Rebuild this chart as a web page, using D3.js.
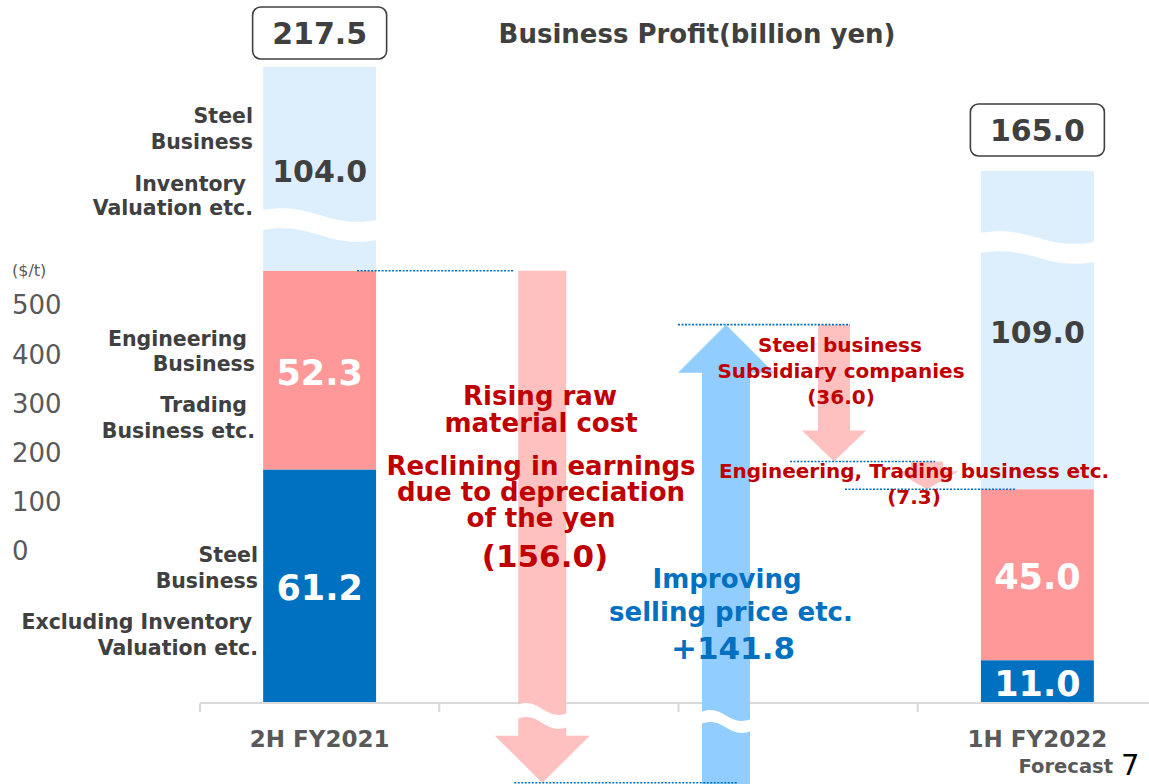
<!DOCTYPE html>
<html><head><meta charset="utf-8">
<script src="https://cdn.jsdelivr.net/npm/d3@7"></script>
<style>
body{margin:0;background:#fff}
svg{display:block}
text{font-family:"DejaVu Sans",Verdana,sans-serif}
</style>
</head><body>
<svg id="c" width="1149" height="784"></svg>
<script>
// ---------------- data ----------------
const categories = ["2H FY2021", "", "", "1H FY2022"];
const categorySub = ["", "", "", "Forecast"];
// stacked segments bottom -> top : steel excl. inventory, engineering/trading, inventory valuation
const startSegments = [61.2, 52.3, 104.0];
const endSegments = [11.0, 45.0, 109.0];
const totals = [217.5, 165.0];
// waterfall steps between the two bars
const stepValues = [-156.0, 141.8, -36.0, -7.3];
const stepLabels = [
  ["Rising raw", "material cost", "Reclining in earnings", "due to depreciation", "of the yen", "(156.0)"],
  ["Improving", "selling price etc.", "+141.8"],
  ["Steel business", "Subsidiary companies", "(36.0)"],
  ["Engineering, Trading business etc.", "(7.3)"]
];
const startSegLabels = [
  ["Steel", "Business", "Excluding Inventory", "Valuation etc."],
  ["Engineering", "Business", "Trading", "Business etc."],
  ["Steel", "Business", "Inventory", "Valuation etc."]
];
const yTickValues = [0, 100, 200, 300, 400, 500];
const yUnit = "($/t)";
const title = "Business Profit(billion yen)";
const pageNumber = "7";

// ---------------- setup ----------------
const svg = d3.select("#c");
const W = 1149, H = 784;
const C = {
  dark: "#404040", grey: "#595959", red: "#C00000", blue: "#0070C0",
  steel: "#0070C0", eng: "#FF9999", inv: "#DDEFFC",
  pinkArrow: "#FFC0C0", blueArrow: "#91CEFF", axis: "#D9D9D9"
};
const segColors = [C.steel, C.eng, C.inv];

const x = d3.scaleBand().domain(d3.range(categories.length)).range([200, 1157]);
const barW = x.bandwidth() * 0.472;
// value scale (negative side compressed: broken axis)
const y = d3.scaleLinear().domain([-100, 0, 120]).range([892, 702, 246]);
// broken upper part: totals map to the bar tops
const yTop = d3.scaleLinear().domain([165.0, 217.5]).range([171, 67]);

function txt(g, xx, cy, s, size, weight, color, anchor) {
  return g.append("text").attr("x", xx).attr("y", cy + size * 0.36)
    .attr("font-size", size).attr("font-weight", weight).attr("fill", color)
    .attr("text-anchor", anchor || "middle").text(s);
}
// multi-line block as one text element: lines = [[x, cy, string, size], ...]
function block(g, lines, weight, color, anchor) {
  const t = g.append("text").attr("font-weight", weight).attr("fill", color)
    .attr("text-anchor", anchor || "middle");
  lines.forEach(l => t.append("tspan").attr("x", l[0]).attr("y", l[1] + l[3] * 0.36)
    .attr("font-size", l[3]).text(l[2]));
  return t;
}
function wavePath(x0, x1, yt, dy, t) {
  const w = x1 - x0;
  return `M${x0 - 1},${yt} C${x0 + w * 0.45},${yt - 9} ${x0 + w * 0.55},${yt + dy + 9} ${x1 + 1},${yt + dy}` +
    ` L${x1 + 1},${yt + dy + t} C${x0 + w * 0.55},${yt + dy + t + 9} ${x0 + w * 0.45},${yt + t - 9} ${x0 - 1},${yt + t} Z`;
}
function arrowPath(cx, y0, y1, sw, hw, hl) {
  const s = y1 > y0 ? 1 : -1;
  const len = Math.abs(y1 - y0);
  const h = Math.min(hl, len * 0.65);
  const yb = y1 - s * h;
  return `M${cx - sw / 2},${y0} L${cx + sw / 2},${y0} L${cx + sw / 2},${yb} L${cx + hw / 2},${yb} L${cx},${y1} L${cx - hw / 2},${yb} L${cx - sw / 2},${yb} Z`;
}

// ---------------- axis ----------------
const gAxis = svg.append("g");
gAxis.append("line").attr("x1", x(0)).attr("x2", W).attr("y1", 703).attr("y2", 703)
  .attr("stroke", C.axis).attr("stroke-width", 2);
gAxis.selectAll("line.tick").data(d3.range(categories.length)).join("line")
  .attr("class", "tick").attr("x1", d => x(d)).attr("x2", d => x(d))
  .attr("y1", 703).attr("y2", 712).attr("stroke", C.axis).attr("stroke-width", 2);
categories.forEach((c, i) => {
  if (c) txt(gAxis, x(i) + x.bandwidth() / 2, 739, c, 23, "bold", C.grey);
  if (categorySub[i]) txt(gAxis, 1113, 766, categorySub[i], 19.5, "bold", C.grey, "end");
});
txt(svg, 1121, 765, pageNumber, 29, "normal", "#000", "start");

// leftover $/t tick labels
const yT = d3.scaleLinear().domain([0, 500]).range([551, 305]);
const gY = svg.append("g");
txt(gY, 12, 270, yUnit, 16, "normal", C.grey, "start");
yTickValues.forEach(v => txt(gY, 12, yT(v), d3.format("d")(v), 26, "normal", C.grey, "start"));

// title
txt(svg, 697, 34, title, 26, "bold", C.dark);

// ---------------- stacked bars ----------------
const bars = [
  { i: 0, segs: startSegments, total: totals[0], box: 8, wave: { y: 210, dy: 10 } },
  { i: 3, segs: endSegments, total: totals[1], box: 15, wave: { y: 233, dy: 9 } }
];
const gBars = svg.append("g");
bars.forEach(b => {
  const x0 = x(b.i) + (x.bandwidth() - barW) / 2;
  const cx = x(b.i) + x.bandwidth() / 2;
  let acc = 0;
  b.segs.forEach((v, k) => {
    const yb = y(acc);
    const yt = k === b.segs.length - 1 ? yTop(b.total) : y(acc + v);
    acc += v;
    gBars.append("rect").attr("x", x0).attr("y", yt).attr("width", barW).attr("height", yb - yt)
      .attr("fill", segColors[k]);
    const light = k === 2;
    txt(gBars, cx, (yt + yb) / 2 + 2, d3.format(".1f")(v), light ? 30 : 35, "bold", light ? C.dark : "#fff");
  });
  // break wave on the top segment
  gBars.append("path").attr("d", wavePath(x0, x0 + barW, b.wave.y, b.wave.dy, 20)).attr("fill", "#fff");
  // total box
  const tTop = yTop(b.total);
  gBars.append("rect").attr("x", cx - 67).attr("y", tTop - b.box - 52).attr("width", 134).attr("height", 52)
    .attr("rx", 8).attr("fill", "#fff").attr("stroke", C.dark).attr("stroke-width", 1.6);
  txt(gBars, cx, tTop - b.box - 26, d3.format(".1f")(b.total), 30, "bold", C.dark);
});
// left-side segment descriptions
const gL = svg.append("g");
const lblX = [[258, 258, 252, 258], [247, 255, 247, 255], [253, 253, 246, 253]];
const lblY = [[555, 581, 622, 648], [339, 364, 405, 431], [116, 142, 184, 208]];
startSegLabels.forEach((lines, k) => lines.forEach((s, j) =>
  txt(gL, lblX[k][j], lblY[k][j], s, 20.5, "bold", C.dark, "end")));

// ---------------- waterfall arrows ----------------
const levels = [startSegments[0] + startSegments[1]];
stepValues.forEach(v => levels.push(+(levels[levels.length - 1] + v).toFixed(1)));
const arrows = [
  { cx: x(1) + 103, sw: 48, hw: 95, hl: 47, fill: C.pinkArrow, wave: { y: 705, dy: 8, t: 14 } },
  { cx: x(2) + 47.5, sw: 48, hw: 96, hl: 48, fill: C.blueArrow, wave: { y: 712, dy: 7, t: 12 } },
  { cx: x(2) + 155.5, sw: 32, hw: 64, hl: 31, fill: C.pinkArrow },
  { cx: x(2) + 248.5, sw: 32, hw: 63, hl: 31, fill: C.pinkArrow }
];
const gA = svg.append("g");
stepValues.forEach((v, k) => {
  const a = arrows[k];
  let y0 = y(levels[k]), y1 = y(levels[k + 1]);
  if (k === 1) y0 += 4;
  gA.append("path").attr("d", arrowPath(a.cx, y0, y1, a.sw, a.hw, a.hl)).attr("fill", a.fill);
  if (a.wave) gA.append("path")
    .attr("d", wavePath(a.cx - a.sw / 2, a.cx + a.sw / 2, a.wave.y, a.wave.dy, a.wave.t)).attr("fill", "#fff");
});

// dotted connectors
const dots = [
  [x(0) + (x.bandwidth() + barW) / 2 - 19, arrows[0].cx - 28, levels[0]],
  [arrows[0].cx - 28, arrows[1].cx + 12, levels[1]],
  [arrows[1].cx - 48, arrows[2].cx + 16, levels[2]],
  [arrows[2].cx - 44, arrows[3].cx + 8, levels[3]],
  [arrows[3].cx - 82, x(3) + (x.bandwidth() - barW) / 2 + 35, levels[4]]
];
svg.append("g").selectAll("line").data(dots).join("line")
  .attr("x1", d => d[0]).attr("x2", d => d[1])
  .attr("y1", d => y(d[2])).attr("y2", d => y(d[2]))
  .attr("stroke", C.blue).attr("stroke-width", 1.6).attr("stroke-dasharray", "2,1.5");

// step texts
const gT = svg.append("g");
const L0 = stepLabels[0];
block(gT, [[540, 396, L0[0], 26], [541, 423, L0[1], 26]], "bold", C.red);
block(gT, [[541, 466, L0[2], 26], [541, 492, L0[3], 26], [541, 518, L0[4], 26]], "bold", C.red);
txt(gT, 545, 556, L0[5], 31, "bold", C.red);
const L1 = stepLabels[1];
block(gT, [[727, 579, L1[0], 26], [731, 612, L1[1], 26]], "bold", C.blue);
txt(gT, 733, 648, L1[2], 31, "bold", C.blue);
const L2 = stepLabels[2];
block(gT, [[840, 345, L2[0], 20], [841, 371, L2[1], 20], [841, 397, L2[2], 20]], "bold", C.red);
const L3 = stepLabels[3];
block(gT, [[914, 471, L3[0], 20], [914, 497, L3[1], 20]], "bold", C.red);
</script>
</body></html>
